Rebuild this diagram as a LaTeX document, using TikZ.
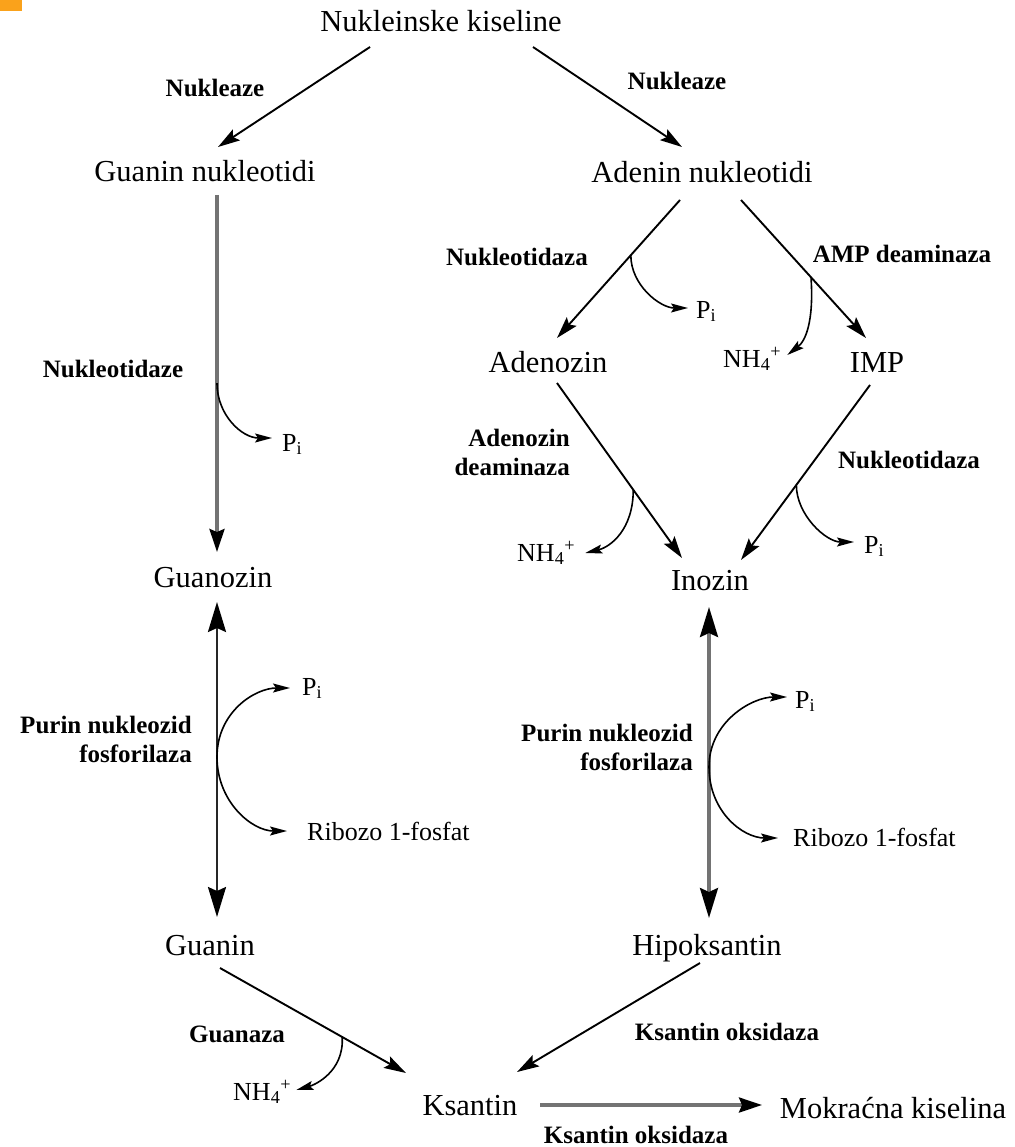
\documentclass[tikz,border=0pt]{standalone}
\usepackage{fontspec}
\setmainfont{Liberation Serif}
\usetikzlibrary{arrows.meta,calc}
\definecolor{tab}{RGB}{250,162,27}
\newcommand\mainsz{\fontsize{30.5}{36}\selectfont}
\newcommand\enzsz{\fontsize{25}{29}\selectfont\bfseries}
\newcommand\prodsz{\fontsize{26}{30}\selectfont}
\newcommand\Psub{P\textsubscript{i}}
\newcommand\NHf{NH\textsubscript{4}\textsuperscript{+}}
\begin{document}
\begin{tikzpicture}[x=1pt,y=-1pt,
  main/.style={font=\mainsz, inner sep=0, anchor=base},
  enz/.style={font=\enzsz, inner sep=0, anchor=base},
  prod/.style={font=\prodsz, inner sep=0, anchor=base west},
  arr/.style={line width=1.9pt, -{Stealth[length=22pt,width=13pt,inset=4pt]}},
  garr/.style={line width=3.2pt, draw=black!55, -{Stealth[length=23pt,width=15pt,inset=3pt,color=black]}},
  dbl/.style={line width=2.4pt, draw=black!85, {Stealth[length=30pt,width=18pt,inset=4pt,color=black]}-{Stealth[length=30pt,width=18pt,inset=4pt,color=black]}},
  gdbl/.style={line width=3.2pt, draw=black!55, {Stealth[length=30pt,width=18pt,inset=4pt,color=black]}-{Stealth[length=30pt,width=18pt,inset=4pt,color=black]}},
  side/.style={line width=1.6pt, -{Stealth[length=17pt,width=9pt,inset=3pt]}}
]
\useasboundingbox (0,0) rectangle (1014,1147);
\fill[tab] (0,0) rectangle (22,11);

% main compounds
\node[main] (nk)  at (441,32)   {Nukleinske kiseline};
\node[main] (gn)  at (205,182)  {Guanin nukleotidi};
\node[main] (an)  at (702,183)  {Adenin nukleotidi};
\node[main] (ado) at (548,372)  {Adenozin};
\node[main] (imp) at (877,372)  {IMP};
\node[main] (gz)  at (213,587)  {Guanozin};
\node[main] (ino) at (710,590)  {Inozin};
\node[main] (ga)  at (210,955)  {Guanin};
\node[main] (hx)  at (707,955)  {Hipoksantin};
\node[main] (ks)  at (470,1115) {Ksantin};
\node[main] (mk)  at (893,1118) {Mokraćna kiselina};

% enzymes
\node[enz] (e1)  at (215,97)   {Nukleaze};
\node[enz] (e2)  at (677,90)   {Nukleaze};
\node[enz] (e3)  at (113,377)  {Nukleotidaze};
\node[enz] (e4)  at (517,266)  {Nukleotidaza};
\node[enz] (e5)  at (902,263)  {AMP deaminaza};
\node[enz, align=right, anchor=north east] (e6) at (570,429) {Adenozin\\deaminaza};
\node[enz] (e7)  at (909,468)  {Nukleotidaza};
\node[enz, align=right, anchor=north east] (e8) at (192,716) {Purin nukleozid\\fosforilaza};
\node[enz, align=right, anchor=north east] (e9) at (693,724) {Purin nukleozid\\fosforilaza};
\node[enz] (e10) at (237,1042) {Guanaza};
\node[enz] (e11) at (727,1040) {Ksantin oksidaza};
\node[enz] (e12) at (636,1143) {Ksantin oksidaza};

% side products
\node[prod] (p1) at (282,451)  {\Psub};
\node[prod] (p2) at (696,318)  {\Psub};
\node[prod] (n1) at (723,367)  {\NHf};
\node[prod] (n2) at (517,561)  {\NHf};
\node[prod] (p3) at (864,553)  {\Psub};
\node[prod] (p4) at (302,695)  {\Psub};
\node[prod] (r1) at (307,840)  {Ribozo 1-fosfat};
\node[prod] (p5) at (795,708)  {\Psub};
\node[prod] (r2) at (793,846)  {Ribozo 1-fosfat};
\node[prod] (n3) at (233,1100) {\NHf};

% main connectors
\draw[arr] ($(nk.base)+(-71,15)$) -- ($(gn.base)+(13,-35)$);
\draw[arr] ($(nk.base)+(92,15)$) -- ($(an.base)+(-20,-36)$);
\draw[garr] ($(gn.base)+(12,13)$) -- coordinate[pos=0.527] (b1) ($(gz.base)+(4,-35)$);
\draw[arr] ($(an.base)+(-22,17)$) -- coordinate[pos=0.40] (b2) ($(ado.base)+(9,-34)$);
\draw[arr] ($(an.base)+(39,17)$) -- coordinate[pos=0.56] (b3) ($(imp.base)+(-11,-34)$);
\draw[arr] ($(ado.base)+(9,11)$) -- coordinate[pos=0.61] (b4) ($(ino.base)+(-28,-32)$);
\draw[arr] ($(imp.base)+(-7,13)$) -- coordinate[pos=0.571] (b5) ($(ino.base)+(31,-30)$);
\draw[dbl] ($(gz.base)+(4,15)$) -- coordinate[pos=0.492] (c1) ($(ga.base)+(7,-38)$);
\draw[gdbl] ($(ino.base)+(-1,17)$) -- coordinate[pos=0.514] (c2) ($(hx.base)+(2,-37)$);
\draw[arr] ($(ga.base)+(10,13)$) -- coordinate[pos=0.657] (b6) ($(ks.base)+(-64,-42)$);
\draw[arr] ($(hx.base)+(-7,8)$) -- ($(ks.base)+(47,-43)$);
\draw[garr] ($(ks.base)+(70,-10)$) -- ($(mk.base)+(-131,-13)$);

% side branches
\draw[side] (b1) .. controls +(0,32) and +(-30,0) .. ($(p1.base west)+(-10,-13)$);
\draw[side] (b2) .. controls +(0,30) and +(-28,0) .. ($(p2.base west)+(-8,-10)$);
\draw[side] (b3) .. controls +(3,45) and +(18,-14) .. ($(n1.base east)+(6,-12)$);
\draw[side] (b4) .. controls +(0,40) and +(25,-6) .. ($(n2.base east)+(10,-8)$);
\draw[side] (b5) .. controls +(0,30) and +(-28,0) .. ($(p3.base west)+(-10,-11)$);
\draw[side] (c1) .. controls +(0,-45) and +(-35,0) .. ($(p4.base west)+(-12,-7)$);
\draw[side] (c1) .. controls +(0,45) and +(-35,0) .. ($(r1.base west)+(-20,-9)$);
\draw[side] (c2) .. controls +(0,-45) and +(-35,0) .. ($(p5.base west)+(-8,-11)$);
\draw[side] (c2) .. controls +(0,45) and +(-35,0) .. ($(r2.base west)+(-15,-8)$);
\draw[side] (b6) .. controls +(2,35) and +(18,-5) .. ($(n3.base east)+(5,-10)$);
\end{tikzpicture}
\end{document}
